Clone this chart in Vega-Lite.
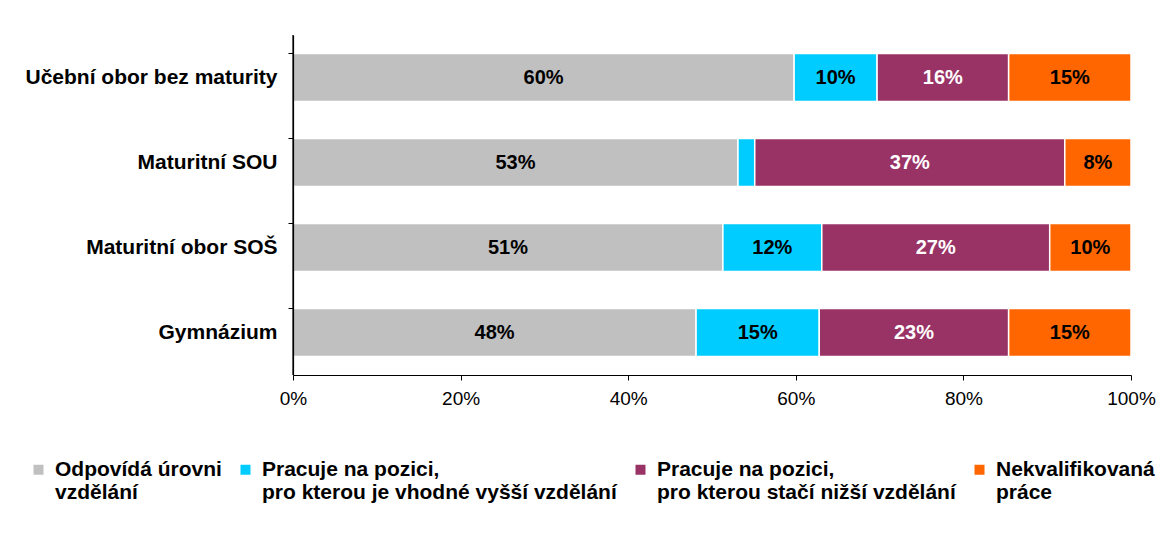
{
  "$schema": "https://vega.github.io/schema/vega-lite/v6.json",
  "width": 838,
  "height": 340,
  "autosize": {"type": "none"},
  "padding": {"left": 293, "top": 35, "right": 30, "bottom": 164},
  "background": "white",
  "config": {
    "font": "Liberation Sans",
    "view": {"stroke": null}
  },
  "datasets": {
    "main": [
      {"cat": "Učební obor bez maturity", "s": 1, "series": "Odpovídá úrovni|vzdělání", "v": 0.598},
      {"cat": "Učební obor bez maturity", "s": 2, "series": "Pracuje na pozici,|pro kterou je vhodné vyšší vzdělání", "v": 0.099},
      {"cat": "Učební obor bez maturity", "s": 3, "series": "Pracuje na pozici,|pro kterou stačí nižší vzdělání", "v": 0.157},
      {"cat": "Učební obor bez maturity", "s": 4, "series": "Nekvalifikovaná|práce", "v": 0.146},
      {"cat": "Maturitní SOU", "s": 1, "series": "Odpovídá úrovni|vzdělání", "v": 0.531},
      {"cat": "Maturitní SOU", "s": 2, "series": "Pracuje na pozici,|pro kterou je vhodné vyšší vzdělání", "v": 0.020},
      {"cat": "Maturitní SOU", "s": 3, "series": "Pracuje na pozici,|pro kterou stačí nižší vzdělání", "v": 0.370},
      {"cat": "Maturitní SOU", "s": 4, "series": "Nekvalifikovaná|práce", "v": 0.079},
      {"cat": "Maturitní obor SOŠ", "s": 1, "series": "Odpovídá úrovni|vzdělání", "v": 0.513},
      {"cat": "Maturitní obor SOŠ", "s": 2, "series": "Pracuje na pozici,|pro kterou je vhodné vyšší vzdělání", "v": 0.118},
      {"cat": "Maturitní obor SOŠ", "s": 3, "series": "Pracuje na pozici,|pro kterou stačí nižší vzdělání", "v": 0.272},
      {"cat": "Maturitní obor SOŠ", "s": 4, "series": "Nekvalifikovaná|práce", "v": 0.097},
      {"cat": "Gymnázium", "s": 1, "series": "Odpovídá úrovni|vzdělání", "v": 0.481},
      {"cat": "Gymnázium", "s": 2, "series": "Pracuje na pozici,|pro kterou je vhodné vyšší vzdělání", "v": 0.147},
      {"cat": "Gymnázium", "s": 3, "series": "Pracuje na pozici,|pro kterou stačí nižší vzdělání", "v": 0.226},
      {"cat": "Gymnázium", "s": 4, "series": "Nekvalifikovaná|práce", "v": 0.146}
    ],
    "origin": [{"x": 0}]
  },
  "layer": [
    {
      "data": {"name": "main"},
      "transform": [
        {"stack": "v", "groupby": ["cat"], "sort": [{"field": "s", "order": "ascending"}], "as": ["v0", "v1"]}
      ],
      "mark": {"type": "bar", "stroke": "white", "strokeWidth": 1.5},
      "encoding": {
        "y": {
          "field": "cat",
          "type": "nominal",
          "sort": ["Učební obor bez maturity", "Maturitní SOU", "Maturitní obor SOŠ", "Gymnázium"],
          "scale": {"paddingInner": 0.435, "paddingOuter": 0.2175},
          "axis": {
            "title": null,
            "domain": true,
            "bandPosition": 0,
            "zindex": 1,
            "domainColor": "black",
            "domainWidth": 1.2,
            "tickColor": "black",
            "tickSize": 5,
            "labelFontSize": 21,
            "labelFontWeight": "bold",
            "labelColor": "black",
            "labelPadding": 11,
            "labelLimit": 300
          }
        },
        "x": {
          "field": "v0",
          "type": "quantitative",
          "scale": {"domain": [0, 1], "nice": false},
          "axis": {
            "title": null,
            "format": ".0%",
            "values": [0, 0.2, 0.4, 0.6, 0.8, 1],
            "grid": false,
            "zindex": 1,
            "domainColor": "black",
            "domainWidth": 1.2,
            "tickColor": "black",
            "tickSize": 5,
            "labelFontSize": 19,
            "labelColor": "black",
            "labelPadding": 9,
            "labelFlush": false
          }
        },
        "x2": {"field": "v1"},
        "color": {
          "field": "series",
          "type": "nominal",
          "scale": {
            "domain": ["Odpovídá úrovni|vzdělání", "Pracuje na pozici,|pro kterou je vhodné vyšší vzdělání", "Pracuje na pozici,|pro kterou stačí nižší vzdělání", "Nekvalifikovaná|práce"],
            "range": ["#C0C0C0", "#00CCFF", "#993366", "#FF6600"]
          },
          "legend": {
            "title": null,
            "orient": "none",
            "legendX": -265,
            "legendY": 424,
            "padding": 0,
            "direction": "horizontal",
            "columns": 4,
            "columnPadding": 13,
            "symbolType": "square",
            "symbolSize": 100,
            "symbolStrokeWidth": 0,
            "labelFontSize": 21,
            "labelFontWeight": "bold",
            "labelColor": "black",
            "labelLineHeight": 23,
            "labelLimit": 500,
            "labelOffset": 6,
            "labelExpr": "split(datum.label, '|')"
          }
        }
      }
    },
    {
      "data": {"name": "main"},
      "transform": [
        {"stack": "v", "groupby": ["cat"], "sort": [{"field": "s", "order": "ascending"}], "as": ["v0", "v1"]},
        {"calculate": "(datum.v0 + datum.v1) / 2", "as": "mid"},
        {"filter": "datum.v >= 0.03"}
      ],
      "mark": {"type": "text", "fontSize": 20, "fontWeight": "bold", "baseline": "middle", "align": "center"},
      "encoding": {
        "y": {
          "field": "cat",
          "type": "nominal",
          "sort": ["Učební obor bez maturity", "Maturitní SOU", "Maturitní obor SOŠ", "Gymnázium"]
        },
        "x": {"field": "mid", "type": "quantitative"},
        "text": {"field": "v", "type": "quantitative", "format": ".0%"},
        "color": {
          "condition": {"test": "datum.s == 3", "value": "white"},
          "value": "black"
        }
      }
    },
    {
      "data": {"name": "origin"},
      "mark": {"type": "rule", "color": "black", "strokeWidth": 1.2},
      "encoding": {
        "x": {"field": "x", "type": "quantitative"}
      }
    }
  ]
}
